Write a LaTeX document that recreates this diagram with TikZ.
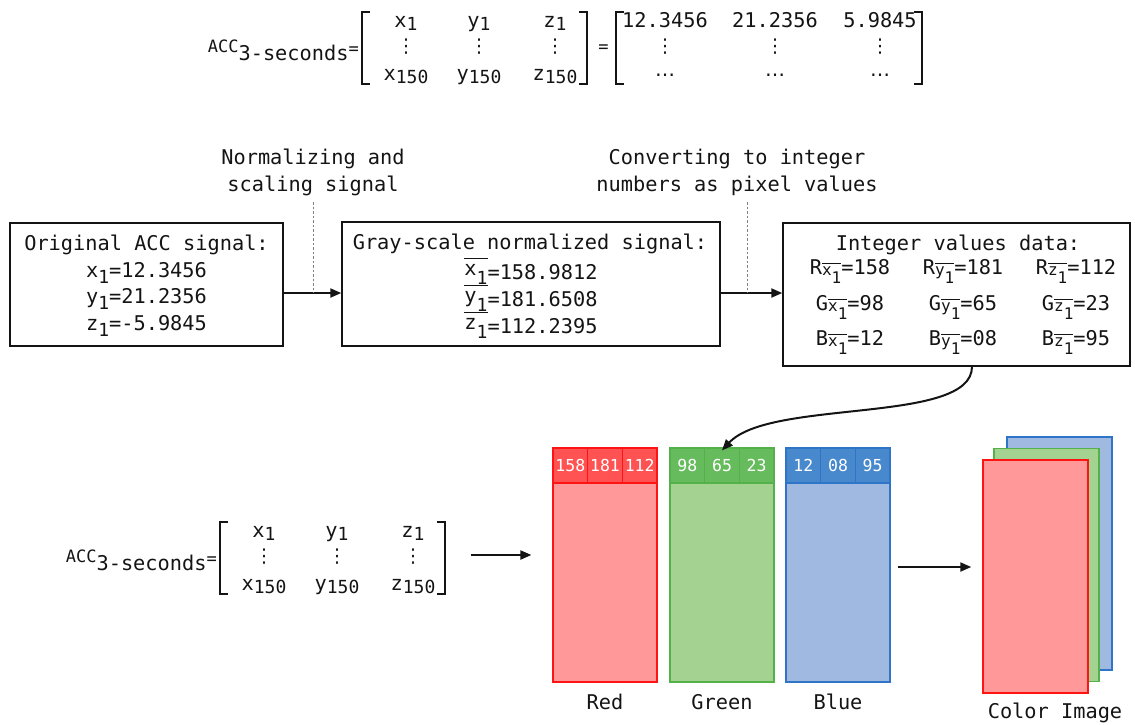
\documentclass[tikz,border=0pt]{standalone}
\usepackage{fontspec}
\setmonofont{DejaVu Sans Mono}
\newfontfamily\symfont{DejaVu Sans}
\usetikzlibrary{arrows.meta,calc}

\definecolor{ink}{RGB}{20,20,20}
\definecolor{redE}{RGB}{255,20,20}
\definecolor{redH}{RGB}{255,82,82}
\definecolor{redB}{RGB}{255,153,153}
\definecolor{grnE}{RGB}{84,176,72}
\definecolor{grnH}{RGB}{102,188,92}
\definecolor{grnB}{RGB}{163,210,145}
\definecolor{bluE}{RGB}{46,117,200}
\definecolor{bluH}{RGB}{72,136,204}
\definecolor{bluB}{RGB}{160,185,225}

% lowered index digit in the signal boxes
\newcommand\lo[1]{\raisebox{-6pt}{\fontsize{18}{20}\selectfont #1}}
% lowered index digit inside the matrices
\newcommand\mlo[1]{\raisebox{-3pt}{\fontsize{18}{20}\selectfont #1}}
% barred variable with index (normalized signal)
\newcommand\osub[1]{\raisebox{4pt}{\vbox{\hrule height 1.2pt\kern 4.5pt\hbox{#1\raisebox{-9pt}{\fontsize{18}{20}\selectfont 1}}}}}
% barred variable used as channel index
\newcommand\bsub[1]{\raisebox{-1pt}{\fontsize{16}{18}\selectfont\vbox{\hrule height 1.1pt\kern 1.8pt\hbox{#1\raisebox{-8pt}{1}}}}}
\newcommand\vd{{\symfont\fontsize{19}{20}\selectfont ⋮}}
\newcommand\hd{{\symfont\fontsize{20}{22}\selectfont …}}
\newcommand\eqs{{\fontsize{17}{18}\selectfont=}}

% the 150 x 3 acceleration matrix, drawn with prefix #1
\newcommand\accmat[1]{%
  \node[txt, anchor=base east] (#1acc) at (359,52)
    {{\fontsize{17}{18}\selectfont ACC}\raisebox{-8pt}{3-seconds}\raisebox{-2pt}{\eqs}};
  \coordinate (#1l) at (362,48);
  \coordinate (#1r) at (587,48);
  \draw[brk] ($(#1l)+(8,-36)$) -- ++(-8,0) -- ++(0,72) -- ++(8,0);
  \draw[brk] ($(#1r)+(-8,-36)$) -- ++(8,0) -- ++(0,72) -- ++(-8,0);
  \node[txt] (#1x1) at (406,27) {x\mlo{1}};
  \node[txt] (#1y1) at (479,27) {y\mlo{1}};
  \node[txt] (#1z1) at (555,27) {z\mlo{1}};
  \node[inner sep=0] (#1xd) at (406,47) {\vd};
  \node[inner sep=0] (#1yd) at (479,47) {\vd};
  \node[inner sep=0] (#1zd) at (555,47) {\vd};
  \node[txt] (#1xn) at (406,80) {x\mlo{150}};
  \node[txt] (#1yn) at (479,80) {y\mlo{150}};
  \node[txt] (#1zn) at (555,80) {z\mlo{150}};
}

% one colour channel: prefix, left edge, colour, three values, caption
\newcommand\chan[7]{%
  \node[cellB=#3, minimum width=104pt, minimum height=199pt] (#1b) at (#2+52,582.5) {};
  \node[cellH=#3] (#1h1) at (#2+17.333,465.5) {#4};
  \node[cellH=#3] (#1h2) at (#2+52,465.5) {#5};
  \node[cellH=#3] (#1h3) at (#2+86.667,465.5) {#6};
  \node[txt] (#1cap) at (#2+52,709) {#7};
}

\begin{document}
\begin{tikzpicture}[x=1pt,y=-1pt,
  font=\ttfamily\fontsize{20.3}{24}\selectfont, text=ink,
  txt/.style={anchor=base, inner sep=0pt},
  box/.style={draw=ink, line width=1.4pt, inner sep=0pt},
  brk/.style={draw=ink, line width=1.4pt},
  flow/.style={draw=ink, line width=2pt, -{Triangle[length=11pt,width=9pt]}},
  guide/.style={draw=gray, line width=0.9pt, dash pattern=on 2.5pt off 2pt},
  cellH/.style={draw=#1E, fill=#1H, line width=1.2pt, text=white,
    minimum width=34.667pt, minimum height=35pt, inner sep=0pt,
    font=\ttfamily\fontsize{16.5}{18}\selectfont},
  cellB/.style={draw=#1E, fill=#1B, line width=1.2pt, inner sep=0pt},
  layer/.style={draw=#1E, fill=#1B, line width=1.4pt, inner sep=0pt,
    minimum width=105pt, minimum height=233pt},
]
\useasboundingbox (0,0) rectangle (1135,724);

% ---- matrix definition at the top
\accmat{t}
\node[txt] (teq) at (603.5,52) {\eqs};
\coordinate (vl) at (616,48);
\coordinate (vr) at (922,48);
\draw[brk] ($(vl)+(8,-36)$) -- ++(-8,0) -- ++(0,72) -- ++(8,0);
\draw[brk] ($(vr)+(-8,-36)$) -- ++(8,0) -- ++(0,72) -- ++(-8,0);
\node[txt] (v1) at (665,27) {12.3456};
\node[txt] (v2) at (775,27) {21.2356};
\node[txt] (v3) at (880,27) {5.9845};
\node[inner sep=0] (v1d) at (665,47) {\vd};
\node[inner sep=0] (v2d) at (775,47) {\vd};
\node[inner sep=0] (v3d) at (880,47) {\vd};
\node[txt] (v1e) at (665,76) {\hd};
\node[txt] (v2e) at (775,76) {\hd};
\node[txt] (v3e) at (880,76) {\hd};

% ---- processing chain
\coordinate (lvl) at (0,293);
\node[box, minimum width=273pt, minimum height=123pt] (orig) at (146.5,284.5) {};
\node[txt] (o0) at (146.5,250) {Original ACC signal:};
\node[txt] (o1) at (146.5,277) {x\lo{1}=12.3456};
\node[txt] (o2) at (146.5,303) {y\lo{1}=21.2356};
\node[txt] (o3) at (146.5,330) {z\lo{1}=-5.9845};

\node[box, minimum width=378pt, minimum height=124pt] (gray) at (531,284) {};
\node[txt] (g0) at (530,249) {Gray-scale normalized signal:};
\node[txt] (g1) at (531,279) {\osub{x}=158.9812};
\node[txt] (g2) at (531,306) {\osub{y}=181.6508};
\node[txt] (g3) at (531,333) {\osub{z}=112.2395};

\node[box, minimum width=347pt, minimum height=143pt] (int) at (956.5,294.5) {};
\node[txt] (i0) at (958,250) {Integer values data:};
\node[txt] (iRx) at (850,274) {R\bsub{x}=158};
\node[txt] (iRy) at (963,274) {R\bsub{y}=181};
\node[txt] (iRz) at (1076,274) {R\bsub{z}=112};
\node[txt] (iGx) at (850,310) {G\bsub{x}=98};
\node[txt] (iGy) at (963,310) {G\bsub{y}=65};
\node[txt] (iGz) at (1076,310) {G\bsub{z}=23};
\node[txt] (iBx) at (850,345) {B\bsub{x}=12};
\node[txt] (iBy) at (963,345) {B\bsub{y}=08};
\node[txt] (iBz) at (1076,345) {B\bsub{z}=95};

\draw[flow] (orig.east |- lvl) -- (gray.west |- lvl);
\draw[flow] (gray.east |- lvl) -- (int.west |- lvl);

% step captions with their guide lines
\node[txt] (n1) at (313,164) {Normalizing and};
\node[txt] (n2) at (313,191) {scaling signal};
\coordinate (gd1) at (313,202);
\draw[guide] (gd1) -- (gd1 |- lvl);
\node[txt] (c1) at (737,164) {Converting to integer};
\node[txt] (c2) at (737,191) {numbers as pixel values};
\coordinate (gd2) at (747,202);
\draw[guide] (gd2) -- (gd2 |- lvl);

% ---- colour channels
\chan{r}{553}{red}{158}{181}{112}{Red}
\chan{g}{670}{grn}{98}{65}{23}{Green}
\chan{b}{786}{blu}{12}{08}{95}{Blue}

\draw[flow] ([xshift=15.5pt]int.south) .. controls +(0,58) and +(48,-52) .. ([yshift=-3pt]gh2.north);

% ---- matrix definition at the bottom
\begin{scope}[shift={(-142,510)}]
  \accmat{m}
\end{scope}
\coordinate (arrB) at (0,555);
\draw[flow, shorten <=26pt, shorten >=21pt] (mr |- arrB) -- (rb.west |- arrB);

% ---- stacked colour image
\node[layer=blu] (imB) at (1059.5,553.5) {};
\node[layer=grn] (imG) at (1046.5,565) {};
\node[layer=red] (imR) at (1035.5,576.5) {};
\node[txt] (imcap) at (1055,718) {Color Image};
\coordinate (arrC) at (0,567);
\draw[flow, shorten <=7pt, shorten >=11pt] (bb.east |- arrC) -- (imR.west |- arrC);
\end{tikzpicture}
\end{document}
